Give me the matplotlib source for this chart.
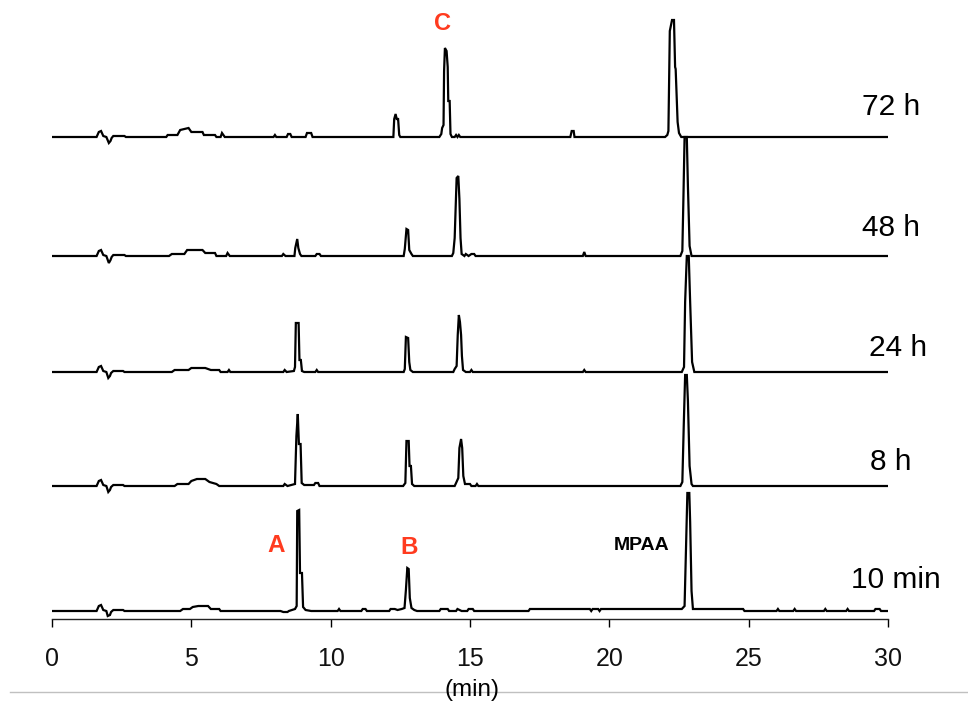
import matplotlib.pyplot as plt
from matplotlib.lines import Line2D

plt.rcParams['font.family'] = ['Liberation Sans', 'DejaVu Sans']

# chromatogram traces: retention time (min) and detector signal (arb. units)
t_10min = [0, 1.6, 1.68, 1.76, 1.84, 1.95, 2.0, 2.08, 2.12, 2.2, 2.55, 2.6,
           4.6, 4.7, 4.95, 5.05, 5.25, 5.6, 5.7, 6.0, 6.05,
           8.2, 8.3, 8.45, 8.5, 8.72, 8.78, 8.8, 8.87, 8.9, 8.97, 9.01, 9.1, 9.3,
           10.25, 10.3, 10.35, 11.1, 11.15, 11.25, 11.3, 12.1, 12.15, 12.3, 12.4, 12.55,
           12.65, 12.7, 12.75, 12.8, 12.84, 12.9, 13.0, 13.1,
           13.9, 13.95, 14.2, 14.25, 14.5, 14.55, 14.7, 14.9, 14.95, 15.1, 15.15,
           17.1, 17.15, 19.3, 19.35, 19.4, 19.6, 19.65, 19.7, 22.6, 22.7, 22.75, 22.8,
           22.87, 22.9, 22.95, 23.0, 24.8, 24.85,
           26.0, 26.05, 26.1, 26.6, 26.65, 26.7, 27.7, 27.75, 27.8, 28.5, 28.55, 28.6,
           29.5, 29.55, 29.7, 29.75, 30]
s_10min = [0, 0, 5, 6, 1, 0, -5, -4, -1, 1, 1, 0,
           0, 2, 2, 4, 5, 5, 2, 2, 0,
           0, -1, -1, 0, 2, 5, 100, 101, 38, 38, 4, 1, 0,
           0, 2, 0, 0, 2, 2, 0, 0, 2, 2, 1, 2,
           3, 21, 43, 42, 13, 3, 1, 0,
           0, 2, 2, 0, 0, 2, 0, 0, 2, 2, 0,
           0, 2, 2, 0, 2, 2, 0, 2, 2, 5, 61, 118,
           118, 89, 20, 2, 2, 0,
           0, 2, 0, 0, 2, 0, 0, 2, 0, 0, 2, 0,
           0, 2, 2, 0, 0]

t_8h = [0, 1.6, 1.68, 1.76, 1.84, 1.95, 2.02, 2.08, 2.12, 2.2, 2.55, 2.6,
        4.4, 4.5, 4.9, 5.0, 5.2, 5.5, 5.65, 5.9, 6.0,
        8.3, 8.35, 8.45, 8.72, 8.77, 8.82, 8.86, 8.92, 8.96, 9.05, 9.4, 9.45, 9.55, 9.6,
        12.6, 12.68, 12.72, 12.8, 12.83, 12.88, 12.92, 13.0,
        14.45, 14.5, 14.58, 14.62, 14.68, 14.72, 14.76, 14.82, 15.0, 15.05, 15.2, 15.25, 15.3,
        22.55, 22.62, 22.67, 22.72, 22.78, 22.82, 22.88, 22.95, 23.0, 30]
s_8h = [0, 0, 5, 6, 1, 0, -6, -4, -1, 1, 1, 0,
        0, 2, 2, 5, 7, 7, 4, 2, 0,
        0, 2, 0, 2, 50, 72, 42, 42, 3, 1, 1, 3, 3, 0,
        0, 3, 45, 45, 20, 20, 2, 0,
        0, 3, 8, 38, 47, 38, 10, 2, 2, 0, 0, 2, 0,
        0, 4, 60, 111, 111, 85, 20, 2, 0, 0]

t_24h = [0, 1.6, 1.68, 1.76, 1.84, 1.95, 2.02, 2.08, 2.12, 2.2, 2.55, 2.6,
         4.3, 4.4, 4.9, 5.0, 5.5, 5.7, 6.0, 6.05, 6.3, 6.35, 6.4,
         8.3, 8.35, 8.42, 8.68, 8.72, 8.75, 8.85, 8.88, 8.93, 8.97, 9.05, 9.45, 9.5, 9.55,
         12.62, 12.66, 12.7, 12.78, 12.82, 12.86, 12.95,
         14.4, 14.45, 14.52, 14.56, 14.6, 14.64, 14.68, 14.71, 14.75, 14.85, 15.0, 15.05, 15.1,
         19.05, 19.1, 19.15,
         22.6, 22.68, 22.72, 22.78, 22.85, 22.9, 22.97, 23.05, 30]
s_24h = [0, 0, 5, 6, 1, 0, -6, -4, -1, 1, 1, 0,
         0, 2, 2, 4, 4, 2, 2, 0, 0, 2, 0,
         0, 2, 0, 1, 5, 49, 49, 12, 12, 1, 0, 0, 2, 0,
         0, 3, 35, 34, 10, 2, 0,
         0, 3, 6, 37, 57, 50, 37, 16, 2, 0, 0, 2, 0,
         0, 2, 0,
         0, 5, 70, 116, 116, 70, 10, 0, 0]

t_48h = [0, 1.6, 1.68, 1.76, 1.84, 1.95, 2.04, 2.1, 2.14, 2.2, 2.6, 2.65,
         4.2, 4.3, 4.75, 4.85, 5.4, 5.5, 5.85, 5.9, 6.25, 6.3, 6.38,
         8.25, 8.3, 8.38, 8.7, 8.73, 8.8, 8.84, 8.9, 8.95, 9.45, 9.5, 9.6, 9.65,
         12.62, 12.66, 12.72, 12.78, 12.82, 12.9, 12.95,
         14.35, 14.4, 14.45, 14.52, 14.58, 14.62, 14.66, 14.7, 14.8, 14.85, 14.95, 15.05, 15.15, 15.2,
         19.05, 19.1, 19.15,
         22.55, 22.62, 22.66, 22.7, 22.78, 22.82, 22.88, 22.95, 30]
s_48h = [0, 0, 5, 6, 1, 0, -7, -4, -1, 1, 1, 0,
         0, 2, 2, 6, 6, 3, 3, 0, 0, 3, 0,
         0, 2, 0, 0, 8, 17, 8, 2, 0, 0, 2, 2, 0,
         0, 7, 27, 26, 6, 2, 0,
         0, 3, 18, 78, 80, 57, 18, 2, 0, 2, 0, 2, 2, 0,
         0, 4, 0,
         0, 5, 60, 119, 119, 70, 10, 0, 0]

t_72h = [0, 1.6, 1.68, 1.76, 1.84, 1.95, 2.04, 2.1, 2.14, 2.2, 2.6, 2.65,
         4.1, 4.15, 4.5, 4.6, 4.75, 4.9, 5.0, 5.4, 5.45, 5.85, 5.9, 6.05, 6.1, 6.2,
         7.95, 8.0, 8.05, 8.42, 8.47, 8.55, 8.6, 9.1, 9.15, 9.3, 9.35,
         12.25, 12.28, 12.33, 12.37, 12.42, 12.46, 12.5,
         13.9, 13.97, 14.0, 14.05, 14.07, 14.1, 14.16, 14.2, 14.22, 14.27, 14.3, 14.35,
         14.45, 14.5, 14.55, 14.6, 14.65,
         18.6, 18.65, 18.72, 18.75,
         22.0, 22.08, 22.12, 22.17, 22.25, 22.32, 22.36, 22.38, 22.45, 22.5, 22.58, 30]
s_72h = [0, 0, 5, 6, 1, 0, -6, -4, -1, 1, 1, 0,
         0, 2, 2, 7, 8, 9, 5, 5, 2, 2, 0, 0, 4, 0,
         0, 2, 0, 0, 3, 3, 0, 0, 4, 4, 0,
         0, 18, 23, 18, 18, 2, 0,
         0, 3, 9, 12, 66, 89, 86, 70, 36, 36, 3, 0,
         0, 2, 0, 2, 0,
         0, 6, 6, 0,
         0, 2, 6, 106, 117, 117, 70, 68, 15, 4, 0, 0]

traces = [(t_10min, s_10min), (t_8h, s_8h), (t_24h, s_24h), (t_48h, s_48h), (t_72h, s_72h)]
trace_labels = ['10 min', '8 h', '24 h', '48 h', '72 h']
offsets = [8, 133, 247, 363, 482]     # vertical stacking
label_pos = [(30.3, 39), (30.1, 157), (30.35, 271), (30.1, 391), (30.1, 512)]

fig = plt.figure(figsize=(9.68, 7.02), dpi=100)
ax = fig.add_axes([52 / 968, 83 / 702, 836 / 968, 619 / 702])

for (t, s), off in zip(traces, offsets):
    ax.plot(t, [v + off for v in s], color='black', lw=1.6, solid_joinstyle='miter')

for lab, (x, y) in zip(trace_labels, label_pos):
    ax.text(x, y, lab, fontsize=21.5, ha='center', va='center', clip_on=False)

red = '#ff3b1f'
ax.text(8.06, 74, 'A', color=red, fontsize=17.5, fontweight='bold', ha='center', va='center')
ax.text(12.81, 72, 'B', color=red, fontsize=17.5, fontweight='bold', ha='center', va='center')
ax.text(14.03, 595, 'C', color=red, fontsize=17, fontweight='bold', ha='center', va='center')
ax.text(21.17, 74, 'MPAA', fontsize=14, fontweight='bold', ha='center', va='center')

ax.set_xlim(0, 30)
ax.set_ylim(0, 619)
ax.set_xticks(range(0, 31, 5))
ax.tick_params(axis='x', direction='out', length=6, width=1, pad=14, labelsize=18,
               labelcolor='#111111')
ax.set_yticks([])
for side in ['top', 'right', 'left']:
    ax.spines[side].set_visible(False)
ax.spines['bottom'].set_linewidth(1)
ax.spines['bottom'].set_color('#222222')

fig.add_artist(Line2D([10 / 968, 1], [10 / 702, 10 / 702], color='#c0c0c0', lw=1))
fig.text(472 / 968, 12 / 702, '(min)', fontsize=17.5, ha='center', va='center')

plt.savefig('out.png')
